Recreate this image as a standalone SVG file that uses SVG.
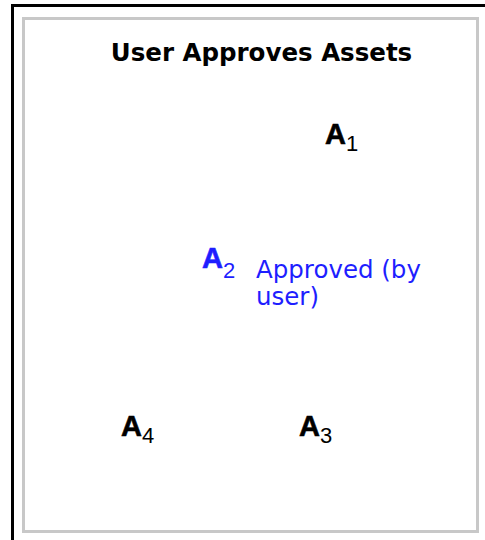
<svg xmlns="http://www.w3.org/2000/svg" width="485" height="540" viewBox="0 0 485 540">
<style>
.lbl{font-family:"Liberation Sans",Arial,sans-serif;font-weight:bold;font-size:29px;fill:#000;stroke:#000;stroke-width:0.6}
.sub{font-size:22px;font-weight:normal;stroke:none}
.blue{fill:#1e1eff;stroke:#1e1eff}
.note{font-family:"DejaVu Sans",Verdana,sans-serif;font-size:24.5px;fill:#1e1eff}
</style>
<rect width="485" height="540" fill="#fff"/>
<path d="M12.5 540 V5.5 H485" fill="none" stroke="#000" stroke-width="3"/>
<rect x="23.5" y="18.5" width="454" height="513" fill="#fff" stroke="#c8c8c8" stroke-width="3"/>
<text x="261.5" y="61" text-anchor="middle" font-family="DejaVu Sans,sans-serif" font-weight="bold" font-size="24.5">User Approves Assets</text>
<g id="A1"><text class="lbl" x="325" y="144">A<tspan class="sub" dy="7">1</tspan></text></g>
<g id="A2"><text class="lbl blue" x="202" y="268">A<tspan class="sub" dy="10">2</tspan></text>
<text class="note" x="256" y="278">Approved (by</text>
<text class="note" x="256" y="305">user)</text></g>
<g id="A3"><text class="lbl" x="299" y="436">A<tspan class="sub" dy="7">3</tspan></text></g>
<g id="A4"><text class="lbl" x="121" y="436">A<tspan class="sub" dy="7">4</tspan></text></g>
<g id="connectors"/>
</svg>
